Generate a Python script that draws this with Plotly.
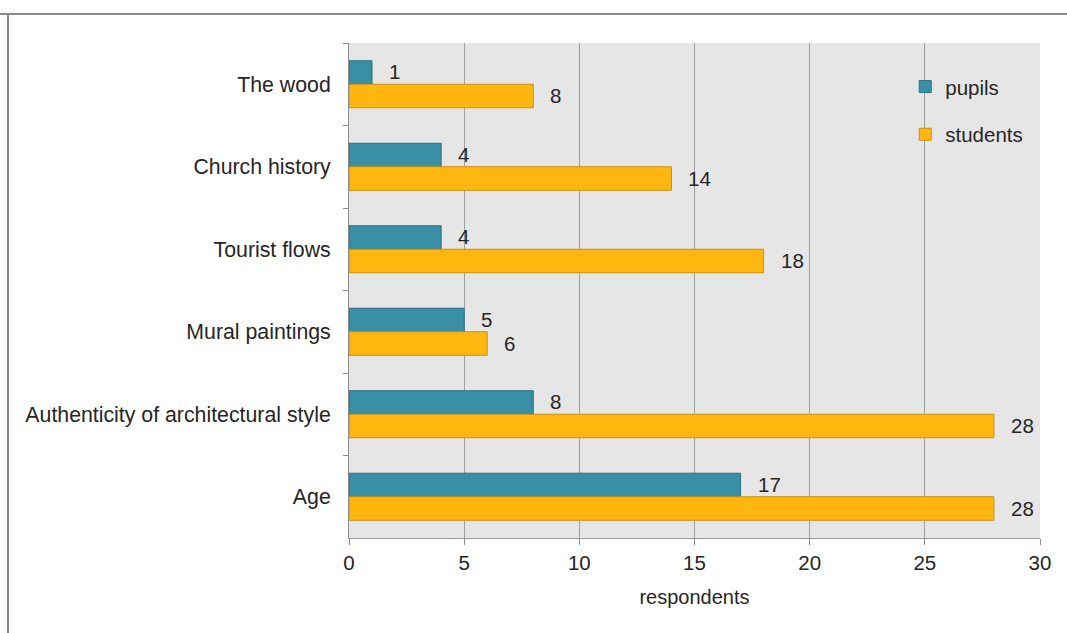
import plotly.graph_objects as go

categories = ["The wood", "Church history", "Tourist flows", "Mural paintings",
              "Authenticity of architectural style", "Age"]
pupils = [1, 4, 4, 5, 8, 17]
students = [8, 14, 18, 6, 28, 28]
x_ticks = [0, 5, 10, 15, 20, 25, 30]

FONT = "Liberation Sans, Arial, sans-serif"
TEXT = "#262626"

fig = go.Figure()
fig.add_trace(go.Bar(
    y=categories, x=pupils, name="pupils", orientation="h",
    marker=dict(color="#3990A6", line=dict(color="#2B6F80", width=1)),
    legendgroup="a",
))
fig.add_trace(go.Bar(
    y=categories, x=students, name="students", orientation="h",
    marker=dict(color="#FFB60F", line=dict(color="#C99012", width=1)),
    legendgroup="b",
))

# value labels just right of each bar end
for i, (c, p, s) in enumerate(zip(categories, pupils, students)):
    for val, off in ((p, -0.15), (s, 0.14)):
        fig.add_annotation(
            x=val, y=i + off, xref="x", yref="y", text=str(val),
            showarrow=False, xanchor="left", yanchor="middle", xshift=15,
            font=dict(family=FONT, size=20.5, color=TEXT),
        )

fig.update_layout(
    width=1067, height=633,
    margin=dict(l=349, r=27, t=43, b=95),
    paper_bgcolor="white", plot_bgcolor="#E6E6E6",
    barmode="group", bargap=0.43, bargroupgap=0,
    font=dict(family=FONT, size=20.5, color=TEXT),
    showlegend=True,
    legend=dict(
        x=0.805, y=0.952, xanchor="left", yanchor="top",
        bgcolor="rgba(0,0,0,0)", font=dict(size=20.5, color=TEXT),
        tracegroupgap=18, itemwidth=30,
    ),
    shapes=[
        dict(type="line", xref="paper", yref="paper", x0=-349 / 691, x1=(1067 - 349) / 691 + 0.01,
             y0=(633 - 95 - 14) / 495, y1=(633 - 95 - 14) / 495,
             line=dict(color="#8A8A8A", width=2)),
        dict(type="line", xref="paper", yref="paper", x0=-341 / 691, x1=-341 / 691,
             y0=(633 - 95 - 14) / 495, y1=-95 / 495 - 0.01,
             line=dict(color="#8A8A8A", width=2)),
    ],
)
fig.update_xaxes(
    range=[0, 30], tickvals=x_ticks, ticks="outside", ticklen=6, tickcolor="#8C8C8C",
    showgrid=True, gridcolor="#A0A0A0", gridwidth=1,
    showline=True, linecolor="#9A9A9A", linewidth=1, zeroline=False,
    tickfont=dict(size=20.5), title=dict(text="respondents", font=dict(size=20), standoff=17),
    mirror=False,
)
fig.update_yaxes(
    autorange="reversed", ticks="outside", tickson="boundaries", ticklen=5,
    tickcolor="#8C8C8C", showgrid=False, showline=True, linecolor="#8C8C8C", linewidth=1,
    tickfont=dict(size=21.3), ticklabelstandoff=13,
)
fig.write_html("out.html")
